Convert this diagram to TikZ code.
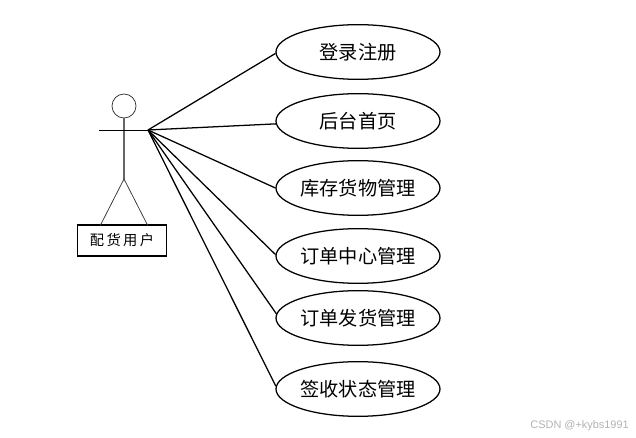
\documentclass[tikz,border=0pt]{standalone}
\usepackage{fontspec}
\usepackage{xcolor}
\usetikzlibrary{positioning,shapes.geometric}
\setmainfont{Liberation Sans}
\newfontfamily\cjk{Noto Sans CJK SC}
\tikzset{
  usecase/.style={draw, ellipse, line width=0.95pt, minimum width=123pt, minimum height=41pt, inner sep=0pt, font=\cjk\fontsize{14.4}{16}\selectfont},
  conn/.style={line width=0.95pt},
  figure/.style={line width=0.55pt, draw=black!80},
}
\begin{document}
\begin{tikzpicture}[x=0.75pt, y=-0.75pt]
  \useasboundingbox (0,0) rectangle (636,438);
  % actor
  \node[draw, circle, figure, minimum size=18pt, inner sep=0pt] (head) at (124,106) {};
  \coordinate (hip) at (124,179);
  \coordinate (hand) at (148,130);
  \coordinate (handl) at (99,130);
  \node[draw, line width=1.1pt, minimum width=67pt, minimum height=23pt, inner sep=0pt, font=\cjk\fontsize{10.7}{12}\selectfont] (actor) at (122,240.5) {配\,货\,用\,户};
  \coordinate (footl) at (100,226);
  \coordinate (footr) at (148,226);
  \draw[figure, draw=black!60, line width=0.9pt] (head) -- (hip);
  \draw[conn, line width=0.7pt] (handl) -- (hand);
  \draw[figure] (footl) -- (hip) -- (footr);
  % use cases
  \node[usecase] (login) at (358,52) {登录注册};
  \node[usecase] (home) at (358,121) {后台首页};
  \node[usecase] (stock) at (358,188) {库存货物管理};
  \node[usecase] (order) at (358,256) {订单中心管理};
  \node[usecase] (ship) at (358,318) {订单发货管理};
  \node[usecase] (sign) at (358,389) {签收状态管理};
  \foreach \uc/\ang in {login/181.5,home/182,stock/180,order/179,ship/177,sign/178}
    \draw[conn] (hand) -- (\uc.\ang);
  % watermark
  \node[anchor=east, inner sep=0pt, text=black!30, font=\fontsize{8.2}{10}\selectfont] (mark) at (629,426) {CSDN @+kybs1991};
\end{tikzpicture}
\end{document}
